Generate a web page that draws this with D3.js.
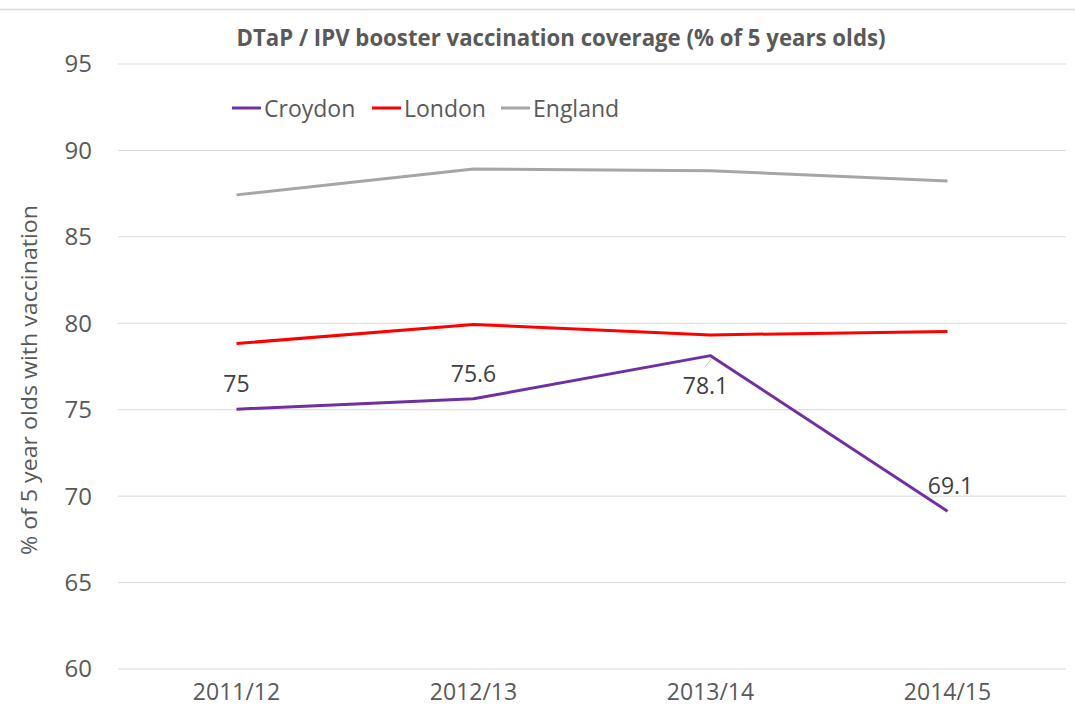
<!DOCTYPE html>
<html><head><meta charset="utf-8">
<script src="https://cdn.jsdelivr.net/npm/d3@7"></script>
<style>body{margin:0;background:#fff}svg{display:block}text{font-family:"Open Sans",sans-serif}</style>
</head><body>
<svg id="c" width="1075" height="717"></svg>
<script>
const categories = ["2011/12","2012/13","2013/14","2014/15"];
const croydon = [75, 75.6, 78.1, 69.1];
const london = [78.8, 79.9, 79.3, 79.5];
const england = [87.4, 88.9, 88.8, 88.2];
const seriesNames = ["Croydon","London","England"];
const seriesColors = ["#7030A0","#FF0000","#A6A6A6"];
const yTicks = [60,65,70,75,80,85,90,95];
const title = "DTaP / IPV booster vaccination coverage (% of 5 years olds)";
const yTitle = "% of 5 year olds with vaccination";

const svg = d3.select("#c");
const x = d3.scaleBand().domain(categories).range([118, 1066]).padding(0);
const y = d3.scaleLinear().domain([60, 95]).range([668.5, 63.5]);
const cx = c => x(c) + x.bandwidth()/2;

// top border
svg.append("line").attr("x1",0).attr("x2",1075).attr("y1",9.5).attr("y2",9.5)
  .attr("stroke","#D9D9D9").attr("stroke-width",1.5);

// grid + y axis
const ya = svg.append("g").attr("transform","translate(118,0)")
  .call(d3.axisLeft(y).tickValues(yTicks).tickSize(-948).tickPadding(26));
ya.select(".domain").remove();
ya.selectAll(".tick line").attr("stroke","#D9D9D9").attr("stroke-width",1);
ya.selectAll(".tick text").attr("fill","#595959").attr("font-size",24)
  .attr("font-family","Open Sans").attr("dy","0.35em");

// x axis
const xa = svg.append("g").attr("transform","translate(0,668.5)")
  .call(d3.axisBottom(x).tickSize(0).tickPadding(15));
xa.select(".domain").remove();
xa.selectAll(".tick text").attr("fill","#595959").attr("font-size",23)
  .attr("font-family","Open Sans").attr("dy","0.71em");

// title
svg.append("text").attr("x",561).attr("y",46).attr("text-anchor","middle")
  .attr("font-weight","bold").attr("font-size",23.5).attr("fill","#595959")
  .attr("textLength",649).attr("lengthAdjust","spacingAndGlyphs").text(title);

// y title
svg.append("text").attr("transform","translate(37,380) rotate(-90)")
  .attr("text-anchor","middle").attr("font-size",22).attr("fill","#595959")
  .attr("textLength",350).attr("lengthAdjust","spacingAndGlyphs").text(yTitle);

// lines
const data = [croydon, london, england];
const line = d3.line().x((d,i)=>cx(categories[i])).y(d=>y(d));
[2,1,0].forEach(k=>{
  svg.append("path").datum(data[k]).attr("d",line).attr("fill","none")
    .attr("stroke",seriesColors[k]).attr("stroke-width",3).attr("stroke-linejoin","round");
});

// leader line for 78.1
svg.append("line").attr("x1",cx(categories[2])+1).attr("y1",y(croydon[2])+3)
  .attr("x2",cx(categories[2])-5).attr("y2",y(croydon[2])+11)
  .attr("stroke","#BFBFBF").attr("stroke-width",1);

// data labels
const labelOff = [[0,-17],[0,-17],[-5,38],[3,-17]];
svg.append("g").selectAll("text").data(croydon).join("text")
  .attr("x",(d,i)=>cx(categories[i])+labelOff[i][0])
  .attr("y",(d,i)=>y(d)+labelOff[i][1])
  .attr("text-anchor","middle").attr("font-size",23).attr("fill","#404040")
  .text(d=>d);

// legend
const legX = [232, 372, 501];
const lg = svg.append("g");
seriesNames.forEach((n,i)=>{
  lg.append("line").attr("x1",legX[i]).attr("x2",legX[i]+29).attr("y1",108).attr("y2",108)
    .attr("stroke",seriesColors[i]).attr("stroke-width",3);
  lg.append("text").attr("x",legX[i]+32).attr("y",116.5).attr("font-size",23)
    .attr("fill","#595959").text(n);
});
</script>
</body></html>
